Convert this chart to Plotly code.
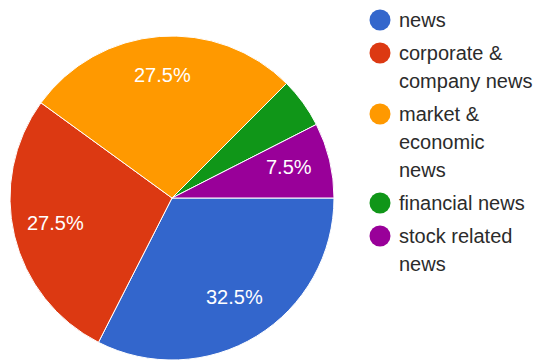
import math
import plotly.graph_objects as go

# Share of news types
labels = ["news", "corporate & company news", "market & economic news",
          "financial news", "stock related news"]
values = [32.5, 27.5, 27.5, 5.0, 7.5]
colors = ["#3366cc", "#dc3912", "#ff9900", "#109618", "#990099"]
# Legend text, wrapped the way it is shown beside the chart
legend_lines = [["news"], ["corporate &", "company news"],
                ["market &", "economic", "news"], ["financial news"],
                ["stock related", "news"]]

W, H = 540, 361
FONT = "Arial"

# pie geometry in pixels
cx, cy, R = 172, 198, 162
start_deg = 90  # first slice starts at 3 o'clock, runs clockwise

fig = go.Figure(go.Pie(
    labels=labels,
    values=values,
    sort=False,
    direction="clockwise",
    rotation=start_deg,
    marker=dict(colors=colors, line=dict(color="white", width=1)),
    textinfo="none",
    showlegend=False,
    domain=dict(x=[(cx - R) / W, (cx + R) / W],
                y=[1 - (cy + R) / H, 1 - (cy - R) / H]),
))

annotations, shapes = [], []

# percentage labels on the slices, placed along each slice's bisector
total = sum(values)
acc = 0.0
for v in values:
    mid = start_deg + 360 * (acc + v / 2) / total  # clockwise from 12 o'clock
    acc += v
    pct = 100 * v / total
    if pct < 7:
        continue
    rr = 0.74 * R
    x = cx + rr * math.sin(math.radians(mid))
    y = cy - rr * math.cos(math.radians(mid)) - 3
    annotations.append(dict(text=f"{pct:.1f}%", xref="paper", yref="paper",
                            x=x / W, y=1 - y / H, xanchor="center",
                            yanchor="middle", showarrow=False,
                            font=dict(family=FONT, size=20, color="white")))

# custom legend: circle markers with wrapped labels
y = 20
line_h = 28
r = 10.5
for color, lines in zip(colors, legend_lines):
    mx = 380
    shapes.append(dict(type="circle", xref="paper", yref="paper",
                       x0=(mx - r) / W, x1=(mx + r) / W,
                       y0=1 - (y + r) / H, y1=1 - (y - r) / H,
                       fillcolor=color, line=dict(width=0)))
    for i, txt in enumerate(lines):
        annotations.append(dict(text=txt, xref="paper", yref="paper",
                                x=397 / W, y=1 - (y + i * line_h) / H,
                                xanchor="left", yanchor="middle",
                                showarrow=False,
                                font=dict(family=FONT, size=20, color="#2b2b2b")))
    y += len(lines) * line_h + 5

fig.update_layout(
    width=W, height=H,
    margin=dict(l=0, r=0, t=0, b=0),
    paper_bgcolor="white",
    plot_bgcolor="white",
    shapes=shapes,
    annotations=annotations,
)

fig.write_html("out.html")
